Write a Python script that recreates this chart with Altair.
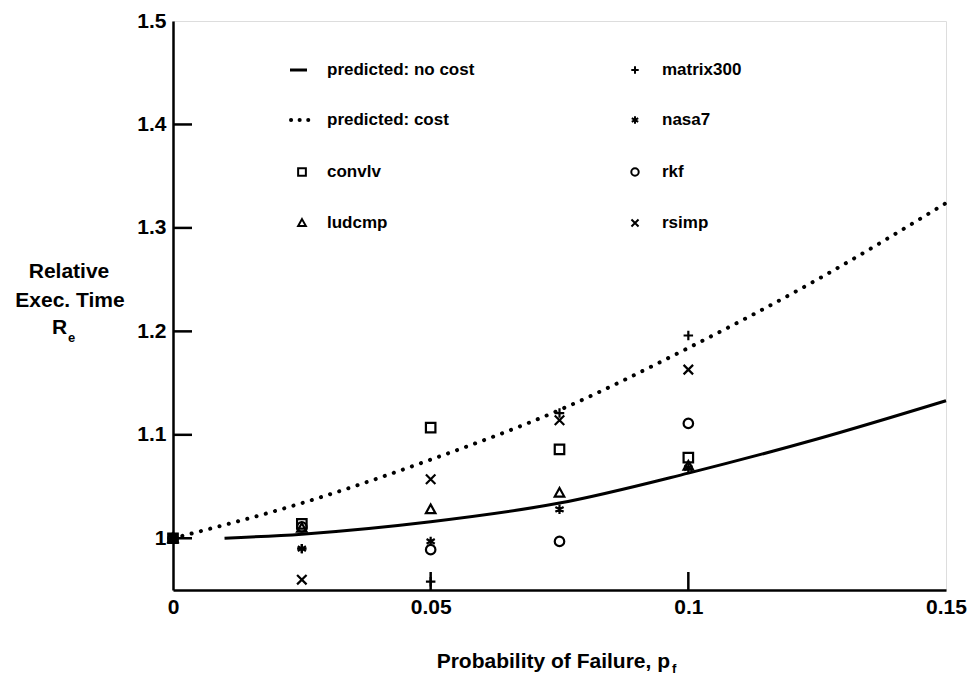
import altair as alt
import pandas as pd

# ---------------- data ----------------
BENCH_P = [0, 0.025, 0.05, 0.075, 0.1]
convlv = [1.0, 1.014, 1.107, 1.086, 1.078]
ludcmp = [1.0, 1.010, 1.028, 1.044, 1.070]
matrix300 = [1.0, 0.990, 0.958, 1.121, 1.196]
nasa7 = [1.0, 0.990, 0.997, 1.028, 1.068]
rkf = [1.0, 1.011, 0.989, 0.997, 1.111]
rsimp = [1.0, 0.960, 1.057, 1.114, 1.163]

NOCOST_P = [0.01, 0.025, 0.05, 0.075, 0.1, 0.125, 0.15]
NOCOST_R = [1.0, 1.004, 1.016, 1.034, 1.063, 1.096, 1.133]
COST_P = [0, 0.025, 0.05, 0.075, 0.1, 0.125, 0.15]
COST_R = [1.0, 1.034, 1.076, 1.124, 1.184, 1.250, 1.324]

X_TICKS = [0, 0.05, 0.1, 0.15]
Y_TICKS = [1.0, 1.1, 1.2, 1.3, 1.4, 1.5]
X_INNER_TICKS = [0.05, 0.1]
Y_INNER_TICKS = [1.0, 1.1, 1.2, 1.3, 1.4]

BENCH_NAMES = ["convlv", "ludcmp", "matrix300", "nasa7", "rkf", "rsimp"]
BENCH_VALUES = [convlv, ludcmp, matrix300, nasa7, rkf, rsimp]

# ---------------- styling ----------------
W, H = 773, 569
FONT = "Liberation Sans"
SQUARE = "M-1,-1H1V1H-1Z"
TRI = "M0,-1L1,0.8L-1,0.8Z"
CIRCLE = "circle"
PLUS = "M-1,0H1M0,-1V1"
STAR = "M0,-1V1M-0.866,-0.5L0.866,0.5M-0.866,0.5L0.866,-0.5"
CROSS = "M-1,-1L1,1M-1,1L1,-1"
SHAPES = {"convlv": SQUARE, "ludcmp": TRI, "matrix300": PLUS,
          "nasa7": STAR, "rkf": CIRCLE, "rsimp": CROSS}

rows = []
for name, vals in zip(BENCH_NAMES, BENCH_VALUES):
    for p, r in zip(BENCH_P, vals):
        rows.append({"p": p, "r": r, "bench": name})
bench_df = pd.DataFrame(rows)
nocost_df = pd.DataFrame({"p": NOCOST_P, "r": NOCOST_R})
cost_df = pd.DataFrame({"p": COST_P, "r": COST_R})

xscale = alt.Scale(domain=[0, 0.15], nice=False, zero=False)
yscale = alt.Scale(domain=[0.95, 1.5], nice=False, zero=False)

axis_common = dict(domain=True, domainColor="black", domainWidth=2.5,
                   ticks=False, grid=False, labelFont=FONT,
                   labelFontWeight="bold", labelFontSize=21,
                   labelColor="black", labelFlush=False,
                   labelOverlap=False, title=None, format="~g")

X = alt.X("p:Q", scale=xscale,
          axis=alt.Axis(values=X_TICKS, labelPadding=6, **axis_common))
Y = alt.Y("r:Q", scale=yscale,
          axis=alt.Axis(values=Y_TICKS, labelPadding=7, **axis_common))

nocost = alt.Chart(nocost_df).mark_line(
    color="black", strokeWidth=3, interpolate="monotone"
).encode(x=X, y=Y)

cost = alt.Chart(cost_df).mark_line(
    color="black", strokeWidth=4, strokeDash=[0.1, 9.5],
    strokeCap="round", interpolate="monotone"
).encode(x=X, y=Y)

points = alt.Chart(bench_df).mark_point(
    filled=False, color="black", strokeWidth=2.2, size=90, opacity=1
).encode(
    x=X, y=Y,
    shape=alt.Shape("bench:N", legend=None,
                    scale=alt.Scale(domain=BENCH_NAMES,
                                    range=[SHAPES[n] for n in BENCH_NAMES])),
)

# inward tick marks
xt = alt.Chart(pd.DataFrame({"p": X_INNER_TICKS})).mark_rule(
    color="black", strokeWidth=2.5
).encode(x=alt.X("p:Q", scale=xscale), y=alt.value(H), y2=alt.value(H - 18))
yt = alt.Chart(pd.DataFrame({"r": Y_INNER_TICKS})).mark_rule(
    color="black", strokeWidth=2.5
).encode(y=alt.Y("r:Q", scale=yscale), x=alt.value(0), x2=alt.value(19))

one = alt.Data(values=[{}])


def txt(s, x, y, size=21, align="left", baseline="middle"):
    return alt.Chart(one).mark_text(
        font=FONT, fontWeight="bold", fontSize=size, color="black",
        align=align, baseline=baseline
    ).encode(x=alt.value(x), y=alt.value(y), text=alt.value(s))


def sym(shape, x, y, size=70):
    return alt.Chart(one).mark_point(
        shape=shape, filled=False, color="black", strokeWidth=2, size=size,
        opacity=1
    ).encode(x=alt.value(x), y=alt.value(y))


# legend
ROWS = [49, 99, 151, 202]
legend = [
    alt.Chart(one).mark_rule(color="black", strokeWidth=3).encode(
        x=alt.value(117), x2=alt.value(134), y=alt.value(ROWS[0])),
    alt.Chart(one).mark_rule(color="black", strokeWidth=4,
                             strokeDash=[0.1, 8.5], strokeCap="round").encode(
        x=alt.value(118), x2=alt.value(137), y=alt.value(ROWS[1])),
    sym(SQUARE, 129, ROWS[2], 60),
    sym(TRI, 129, ROWS[3], 60),
    sym(PLUS, 462, ROWS[0], 55),
    sym(STAR, 462, ROWS[1], 55),
    sym(CIRCLE, 462, ROWS[2], 55),
    sym(CROSS, 462, ROWS[3], 50),
]
col1 = ["predicted: no cost", "predicted: cost", "convlv", "ludcmp"]
col2 = ["matrix300", "nasa7", "rkf", "rsimp"]
for i, s in enumerate(col1):
    legend.append(txt(s, 154, ROWS[i], 17))
for i, s in enumerate(col2):
    legend.append(txt(s, 489, ROWS[i], 17))

# axis titles
titles = [
    txt("Probability of Failure, p", 497, 647, 21, align="right",
        baseline="alphabetic"),
    txt("f", 499, 652, 13, baseline="alphabetic"),
    txt("Relative", -104, 251, 21, align="center"),
    txt("Exec. Time", -103, 280, 21, align="center"),
    txt("R", -121, 307, 21),
    txt("e", -105, 317, 13),
]

chart = alt.layer(
    nocost, cost, points, xt, yt, *legend, *titles
).properties(
    width=W, height=H,
    autosize=alt.AutoSizeParams(type="none"),
    padding={"left": 173, "top": 21, "right": 27, "bottom": 88},
).configure_view(
    stroke="black", strokeWidth=2.5
).configure(background="white")

chart.save("out.html", embed_options={"renderer": "svg", "actions": False})
